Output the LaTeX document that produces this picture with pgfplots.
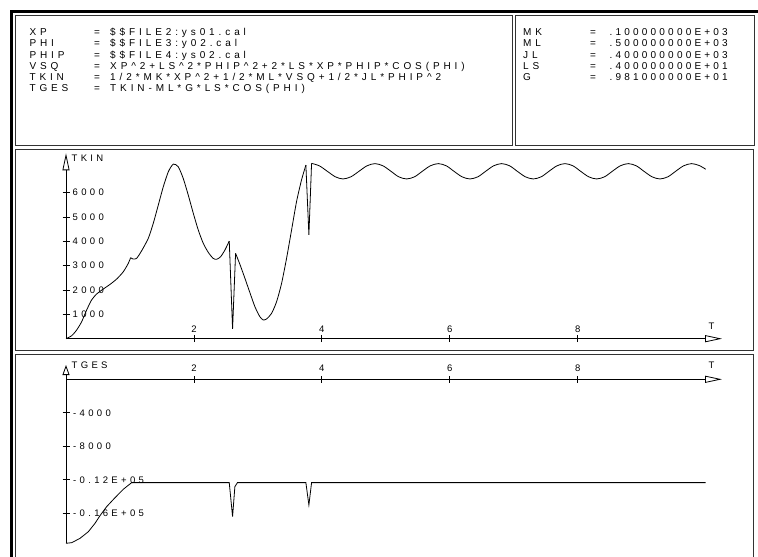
\documentclass[border=0pt]{standalone}
\usepackage{pgfplots}
\pgfplotsset{compat=1.18}
\usepackage{fontspec}
\setmainfont{Liberation Sans}
\newfontfamily\bfam[LetterSpace=39]{Liberation Sans}
\newfontfamily\nfam[LetterSpace=32]{Liberation Sans}
\newfontfamily\tfam[LetterSpace=35]{Liberation Sans}
\newcommand\boxf{\bfam\fontsize{10pt}{12pt}\selectfont}
\newcommand\numf{\nfam\fontsize{10pt}{12pt}\selectfont}
\newcommand\tickf{\tfam\fontsize{9.5pt}{11pt}\selectfont}
\usetikzlibrary{arrows.meta}

\pgfplotstableread{
t v
0 0
0.089 123
0.167 357
0.245 698
0.323 1178
0.40 1589
0.479 1835
0.583 2040
0.688 2230
0.792 2450
0.896 2750
0.974 3095
1.01 3325
}\tkinA
\pgfplotstableread{
t v
1.01 3325
1.052 3270
1.104 3300
1.18 3600
1.286 4120
1.364 4735
1.443 5490
1.521 6240
1.6 6860
1.677 7170
1.755 7060
1.833 6580
1.911 5900
1.99 5150
2.068 4460
2.146 3915
2.224 3545
2.30 3300
2.354 3260
2.417 3365
2.484 3640
2.552 4010
}\tkinB
\pgfplotstableread{
t v
2.552 4010
2.604 400
2.651 3505
}\tkinS
\pgfplotstableread{
t v
2.651 3505
2.719 3050
2.797 2480
2.875 1890
2.953 1315
3.03 905
3.083 770
3.135 810
3.214 1040
3.292 1520
3.37 2270
3.448 3300
3.526 4460
3.604 5630
3.682 6520
3.75 7130
}\tkinC
\pgfplotstableread{
t v
3.75 7130
3.797 4260
3.839 7200
}\tkinT
\pgfplotstableread{
t v
3.839 7200
3.96 7100
4.085 6875
4.21 6650
4.33 6560
4.455 6650
4.58 6875
4.705 7100
4.83 7190
4.955 7100
5.08 6875
5.20 6650
5.325 6560
5.45 6650
5.57 6875
5.695 7100
5.82 7190
5.945 7100
6.065 6875
6.19 6650
6.315 6560
6.44 6650
6.56 6875
6.685 7100
6.81 7190
6.935 7100
7.055 6875
7.18 6650
7.305 6560
7.43 6650
7.55 6875
7.675 7100
7.80 7190
7.925 7100
8.045 6875
8.17 6650
8.295 6560
8.42 6650
8.54 6875
8.665 7100
8.79 7190
8.915 7100
9.035 6875
9.16 6650
9.285 6560
9.41 6650
9.53 6875
9.655 7100
9.78 7190
9.90 7110
10.0 6960
}\tkinD
\pgfplotstableread{
t v
0 -19580
0.089 -19510
0.219 -18990
0.349 -18200
0.453 -17200
0.531 -16290
0.635 -15210
0.766 -14140
0.896 -13130
1.026 -12340
2.552 -12340
2.604 -16400
2.64 -12820
2.68 -12340
3.75 -12340
3.797 -15010
3.839 -12340
10.0 -12340
}\tges

\begin{document}
\begin{tikzpicture}[x=1pt,y=1pt]
\useasboundingbox (0,0) rectangle (758,557);
\begin{scope}[shift={(0pt,557pt)}, x=1pt, y=-1pt]
  % outer frame
  \draw[line width=2.7pt] (11.3,565) -- (11.3,11.3) -- (770,11.3);
  % boxes
  \begin{scope}[black!80, line width=1pt]
    \draw (15.5,15.5) rectangle (512,146);
    \draw (515,15.5) rectangle (754.5,146);
    \draw (15.5,150) rectangle (753,351);
    \draw (15.5,355) rectangle (753,570);
  \end{scope}
  % text box left
  \begin{scope}[every node/.style={font=\boxf, inner sep=0pt, anchor=base west}]
    \node at (29.3,35.9) {XP};
    \node at (29.3,46.98) {PHI};
    \node at (29.3,58.06) {PHIP};
    \node at (29.3,69.14) {VSQ};
    \node at (29.3,80.22) {TKIN};
    \node at (29.3,91.3) {TGES};
    \foreach \i in {0,...,5}{\node at (94,35.9+11.08*\i) {=};}
    \node at (110,35.9) {\$\$FILE2:ys01.cal};
    \node at (110,46.98) {\$\$FILE3:y02.cal};
    \node at (110,58.06) {\$\$FILE4:ys02.cal};
    \node at (110,69.14) {XP\textasciicircum2+LS\textasciicircum2*PHIP\textasciicircum2+2*LS*XP*PHIP*COS(PHI)};
    \node at (110,80.22) {1/2*MK*XP\textasciicircum2+1/2*ML*VSQ+1/2*JL*PHIP\textasciicircum2};
    \node at (110,91.3) {TKIN-ML*G*LS*COS(PHI)};
    % right box
    \node at (523,35.9) {MK};
    \node at (523,46.98) {ML};
    \node at (523,58.06) {JL};
    \node at (523,69.14) {LS};
    \node at (523,80.22) {G};
    \foreach \i in {0,...,4}{\node at (590,35.9+11.08*\i) {=};}
    \node[font=\numf] at (609.5,35.9) {.100000000E+03};
    \node[font=\numf] at (609.5,46.98) {.500000000E+03};
    \node[font=\numf] at (609.5,58.06) {.400000000E+03};
    \node[font=\numf] at (609.5,69.14) {.400000000E+01};
    \node[font=\numf] at (609.5,80.22) {.981000000E+01};
  \end{scope}
\end{scope}

% Panel 1: TKIN
\begin{axis}[
  at={(66pt,218.3pt)}, anchor=south west,
  scale only axis, width=656pt, height=185.4pt,
  xmin=0, xmax=10.255, ymin=0, ymax=7614,
  enlargelimits=false, clip=false,
  axis lines=middle,
  scaled ticks=false,
  x axis line style={line width=0.8pt, -{Triangle[open, length=17pt, width=7pt]}},
  y axis line style={line width=0.8pt, -{Triangle[open, length=17pt, width=7pt]}},
  xtick={2,4,6,8}, xticklabels={2,4,6,8},
  ytick={1000,2000,3000,4000,5000,6000},
  yticklabels={1000,2000,3000,4000,5000,6000},
  major tick length=7pt, tick align=center,
  tick style={black, line width=0.8pt},
  xticklabel style={font=\tickf, anchor=base, inner sep=0pt, yshift=9.4pt},
  yticklabel style={font=\tickf, anchor=west, inner sep=0pt, xshift=10pt},
]
\addplot[black, line width=0.8pt, smooth, tension=0.4] table[x=t,y=v] {\tkinA};
\addplot[black, line width=0.8pt, smooth, tension=0.4] table[x=t,y=v] {\tkinB};
\addplot[black, line width=0.8pt] table[x=t,y=v] {\tkinS};
\addplot[black, line width=0.8pt, smooth, tension=0.4] table[x=t,y=v] {\tkinC};
\addplot[black, line width=0.8pt] table[x=t,y=v] {\tkinT};
\addplot[black, line width=0.8pt, smooth, tension=0.5] table[x=t,y=v] {\tkinD};
\node[font=\tickf, anchor=north west, inner sep=0pt, xshift=5.5pt, yshift=-1.7pt] at (axis cs:0,7614) {TKIN};
\node[font=\tickf, anchor=base, inner sep=0pt, yshift=9.4pt] at (axis cs:10.09,0) {T};
\end{axis}

% Panel 2: TGES
\begin{axis}[
  at={(66pt,13.55pt)}, anchor=south west,
  scale only axis, width=656pt, height=178.45pt,
  xmin=0, xmax=10.255, ymin=-19600, ymax=1707,
  enlargelimits=false, clip=false,
  axis lines=middle,
  scaled ticks=false,
  x axis line style={line width=0.8pt, -{Triangle[open, length=17pt, width=7pt]}},
  y axis line style={line width=0.8pt, -{Triangle[open, length=10pt, width=7pt]}},
  xtick={2,4,6,8}, xticklabels={2,4,6,8},
  ytick={-16000,-12000,-8000,-4000},
  yticklabels={-0.16E+05,-0.12E+05,-8000,-4000},
  major tick length=7pt, tick align=center,
  tick style={black, line width=0.8pt},
  xticklabel style={font=\tickf, anchor=base, inner sep=0pt, yshift=11pt},
  yticklabel style={font=\tickf, anchor=west, inner sep=0pt, xshift=10.5pt},
]
\addplot[black, line width=0.8pt] table[x=t,y=v] {\tges};
\node[font=\tickf, anchor=west, inner sep=0pt, xshift=5.5pt] at (axis cs:0,1707) {TGES};
\node[font=\tickf, anchor=base, inner sep=0pt, yshift=11pt] at (axis cs:10.09,0) {T};
\end{axis}
\end{tikzpicture}
\end{document}
